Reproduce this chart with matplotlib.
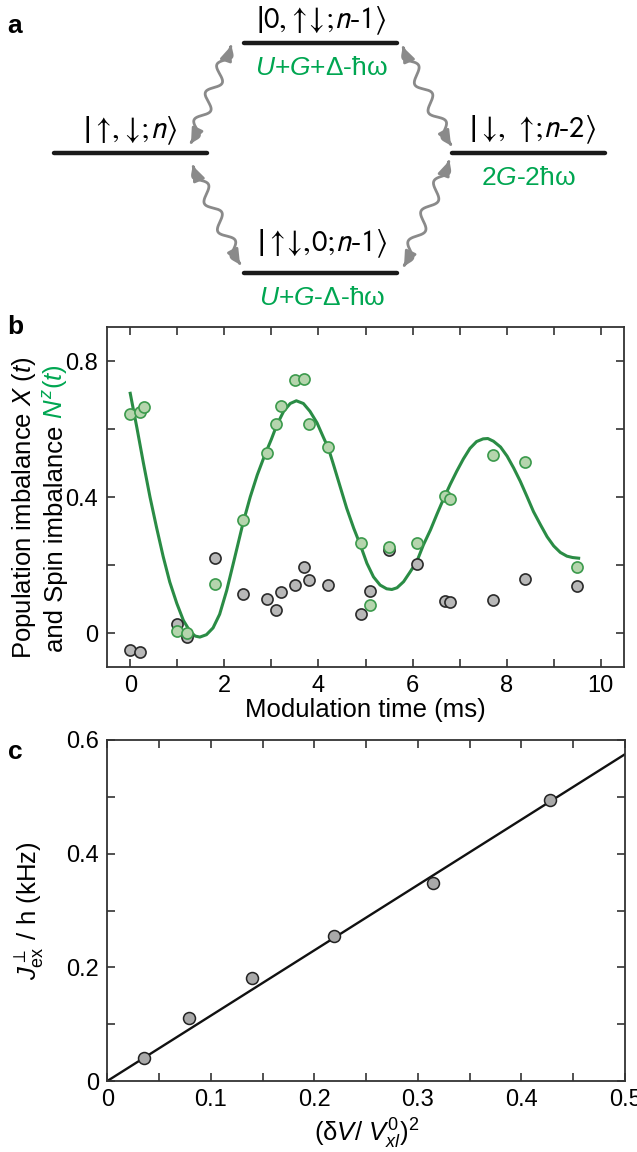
import numpy as np
import matplotlib

matplotlib.use("Agg")
import matplotlib.pyplot as plt
from matplotlib.patches import FancyArrowPatch
from matplotlib.path import Path
from matplotlib.ticker import MultipleLocator

plt.rcParams["font.family"] = ["Liberation Sans", "DejaVu Sans"]
plt.rcParams["mathtext.fontset"] = "custom"
plt.rcParams["mathtext.rm"] = "Liberation Sans"
plt.rcParams["mathtext.it"] = "Liberation Sans:italic"
plt.rcParams["mathtext.bf"] = "Liberation Sans:bold"
plt.rcParams["mathtext.fallback"] = "stixsans"

# ---- panel b: imbalance vs modulation time ----
t_pop = [0.0, 0.2, 1.0, 1.2, 1.8, 2.4, 2.9, 3.1, 3.2, 3.5, 3.7, 3.8, 4.2,
         4.9, 5.1, 5.5, 6.1, 6.7, 6.8, 7.7, 8.4, 9.5]
pop_imb = [-0.049, -0.055, 0.027, -0.011, 0.221, 0.116, 0.099, 0.067, 0.122,
           0.140, 0.193, 0.155, 0.140, 0.055, 0.124, 0.244, 0.203, 0.093,
           0.092, 0.096, 0.158, 0.138]
t_spin = [0.0, 0.2, 0.3, 1.0, 1.2, 1.8, 2.4, 2.9, 3.1, 3.2, 3.5, 3.7, 3.8,
          4.2, 4.9, 5.1, 5.5, 6.1, 6.7, 6.8, 7.7, 8.4, 9.5]
spin_imb = [0.643, 0.651, 0.665, 0.005, 0.001, 0.144, 0.333, 0.529, 0.614,
            0.668, 0.743, 0.748, 0.614, 0.547, 0.265, 0.081, 0.253, 0.265,
            0.404, 0.394, 0.523, 0.503, 0.194]
# fitted curve
fit_t = [0.0, 0.14, 0.28, 0.42, 0.56, 0.70, 0.84, 0.99, 1.13, 1.27, 1.38, 1.48,
         1.62, 1.76, 1.90, 2.05, 2.20, 2.40, 2.55, 2.70, 2.85, 3.00, 3.11, 3.26,
         3.40, 3.53, 3.68, 3.82, 3.97, 4.11, 4.21, 4.32, 4.46, 4.60, 4.75, 4.89,
         5.03, 5.17, 5.31, 5.45, 5.56, 5.67, 5.81, 5.95, 6.09, 6.23, 6.38, 6.52,
         6.66, 6.80, 6.94, 7.08, 7.22, 7.36, 7.50, 7.60, 7.72, 7.87, 8.01, 8.15,
         8.29, 8.43, 8.57, 8.72, 8.86, 9.00, 9.14, 9.28, 9.40, 9.53]
fit_spin = [0.705, 0.605, 0.500, 0.400, 0.310, 0.225, 0.150, 0.087, 0.037, 0.005,
            -0.009, -0.012, -0.005, 0.015, 0.055, 0.125, 0.210, 0.325, 0.400,
            0.465, 0.520, 0.570, 0.610, 0.652, 0.675, 0.683, 0.675, 0.652, 0.618,
            0.574, 0.544, 0.495, 0.431, 0.367, 0.308, 0.259, 0.205, 0.165, 0.141,
            0.130, 0.128, 0.133, 0.151, 0.180, 0.210, 0.259, 0.303, 0.350, 0.395,
            0.437, 0.476, 0.512, 0.543, 0.563, 0.571, 0.572, 0.564, 0.547, 0.520,
            0.485, 0.446, 0.402, 0.357, 0.318, 0.283, 0.256, 0.237, 0.226, 0.222,
            0.220]

# ---- panel c: exchange coupling vs modulation depth ----
dv_sq = [0.035, 0.079, 0.140, 0.219, 0.315, 0.428]
j_ex = [0.040, 0.110, 0.181, 0.255, 0.348, 0.494]
fit_dv_sq = [0.0, 0.5]
fit_j_ex = [0.0, 0.575]

GREEN_TXT = "#00a651"
GREEN_LINE = "#2a8c45"
AXCOL = "#333333"
FS_TICK = 17
FS_LAB = 18.5

fig = plt.figure(figsize=(6.37, 11.52), dpi=100)


def style_axes(ax):
    for sp in ax.spines.values():
        sp.set_color(AXCOL)
        sp.set_linewidth(1.3)
    ax.tick_params(which="both", direction="in", length=6, width=1.2,
                   color=AXCOL, top=True, right=True, labelsize=FS_TICK, pad=6)


# ---------------- panel a ----------------
axa = fig.add_axes([0, 1 - 320 / 1152, 1, 320 / 1152])
axa.set_xlim(0, 637)
axa.set_ylim(320, 0)
axa.axis("off")


def wavy_arrow(ax, p0, p1, n_waves=3.5, amp=6.0):
    p0 = np.asarray(p0, float)
    p1 = np.asarray(p1, float)
    d = p1 - p0
    u = d / np.hypot(*d)
    nrm = np.array([-u[1], u[0]])
    s = np.linspace(0, 1, 240)
    env = np.clip(np.minimum(s, 1 - s) / 0.1, 0, 1)
    off = amp * env * np.sin(2 * np.pi * n_waves * s)
    pts = p0[None, :] + s[:, None] * d[None, :] + off[:, None] * nrm[None, :]
    arr = FancyArrowPatch(path=Path(pts), arrowstyle="<|-|>,head_length=0.6,head_width=0.25",
                          mutation_scale=14, color="#8a8a8a", lw=2.0)
    ax.add_patch(arr)


for (x0, x1), y in zip([(54, 207), (244, 397), (244, 397), (452, 605)], [153, 43, 273, 153]):
    axa.plot([x0, x1], [y, y], color="#1a1a1a", lw=3.2, solid_capstyle="round")

wavy_arrow(axa, (191, 143), (231, 46))
wavy_arrow(axa, (193, 166), (240, 264))
wavy_arrow(axa, (403, 47), (451, 145))
wavy_arrow(axa, (404, 266), (449, 161))

ket_kw = dict(fontsize=22, ha="center", va="center", math_fontfamily="stixsans")
axa.text(130, 131, r"$\left|\uparrow\!,\!\downarrow\!;\!n\right\rangle$", **ket_kw)
axa.text(321, 21, r"$\left|0,\!\uparrow\!\!\downarrow\!;\!n\mathrm{‐}1\right\rangle$", **ket_kw)
axa.text(322, 244, r"$\left|\uparrow\!\!\downarrow\!,\!0;\!n\mathrm{‐}1\right\rangle$", **ket_kw)
axa.text(532, 130, r"$\left|\downarrow\!,\,\uparrow\!;\!n\mathrm{‐}2\right\rangle$", **ket_kw)
axa.text(321, 68, r"$U$+$G$+Δ-ħω", fontsize=19, color=GREEN_TXT, ha="center", va="center")
axa.text(322, 298, r"$U$+$G$-Δ-ħω", fontsize=19, color=GREEN_TXT, ha="center", va="center")
axa.text(528, 178, r"2$G$-2ħω", fontsize=19, color=GREEN_TXT, ha="center", va="center")
fig.text(15 / 637, 1 - 26 / 1152, "a", fontsize=19, fontweight="bold", ha="center", va="center")

# ---------------- panel b ----------------
axb = fig.add_axes([106.7 / 637, 1 - 667 / 1152, 517.6 / 637, 340 / 1152])
axb.plot(fit_t, fit_spin, color=GREEN_LINE, lw=2.2, zorder=2)
axb.scatter(t_pop, pop_imb, s=64, facecolor="#b8b8b8", edgecolor="#2a2a2a", lw=1.2, zorder=3)
axb.scatter(t_spin, spin_imb, s=64, facecolor="#b5d5ad", edgecolor="#3b9a4c", lw=1.2, zorder=4)
axb.set_xlim(-0.5, 10.5)
axb.set_ylim(-0.1, 0.9)
axb.xaxis.set_major_locator(MultipleLocator(2))
axb.xaxis.set_minor_locator(MultipleLocator(1))
axb.yaxis.set_minor_locator(MultipleLocator(0.2))
axb.set_yticks([0, 0.4, 0.8])
axb.set_yticklabels(["0", "0.4", "0.8"])
style_axes(axb)
axb.set_xlabel("Modulation time (ms)", fontsize=FS_LAB)
axb.xaxis.set_label_coords(0.5, -0.09)
fig.text(24 / 637, 1 - 508 / 1152, r"Population imbalance $X$ ($t$)", fontsize=FS_LAB,
         rotation=90, ha="center", va="center")
fig.text(56 / 637, 1 - 419 / 1152, "and Spin imbalance ", fontsize=FS_LAB,
         rotation=90, rotation_mode="anchor", ha="right", va="center")
fig.text(56 / 637, 1 - 419 / 1152, r"$N^z(t)$", fontsize=FS_LAB, color=GREEN_TXT,
         rotation=90, rotation_mode="anchor", ha="left", va="center")
fig.text(15 / 637, 1 - 327 / 1152, "b", fontsize=19, fontweight="bold", ha="center", va="center")

# ---------------- panel c ----------------
axc = fig.add_axes([107.3 / 637, 1 - 1081 / 1152, 517.7 / 637, 341 / 1152])
axc.plot(fit_dv_sq, fit_j_ex, color="#111111", lw=1.7, zorder=2)
axc.scatter(dv_sq, j_ex, s=74, facecolor="#a9a9a9", edgecolor="#222222", lw=1.1, zorder=3)
axc.set_xlim(0, 0.5)
axc.set_ylim(0, 0.6)
axc.xaxis.set_major_locator(MultipleLocator(0.1))
axc.xaxis.set_minor_locator(MultipleLocator(0.05))
axc.yaxis.set_major_locator(MultipleLocator(0.2))
axc.yaxis.set_minor_locator(MultipleLocator(0.1))
axc.xaxis.set_major_formatter(lambda v, p: "0" if abs(v) < 1e-9 else f"{v:.1f}")
axc.yaxis.set_major_formatter(lambda v, p: "0" if abs(v) < 1e-9 else f"{v:.1f}")
style_axes(axc)
axc.set_xlabel(r"$(\mathrm{\delta}V/\ V^{0}_{xl})^2$", fontsize=FS_LAB)
axc.xaxis.set_label_coords(0.5, -0.105)
axc.set_ylabel(r"$J^{\perp}_{\mathrm{ex}}$ / h (kHz)", fontsize=FS_LAB)
axc.yaxis.set_label_coords(-0.118, 0.5)
fig.text(15 / 637, 1 - 752 / 1152, "c", fontsize=19, fontweight="bold", ha="center", va="center")

fig.savefig("out.png", dpi=100)
